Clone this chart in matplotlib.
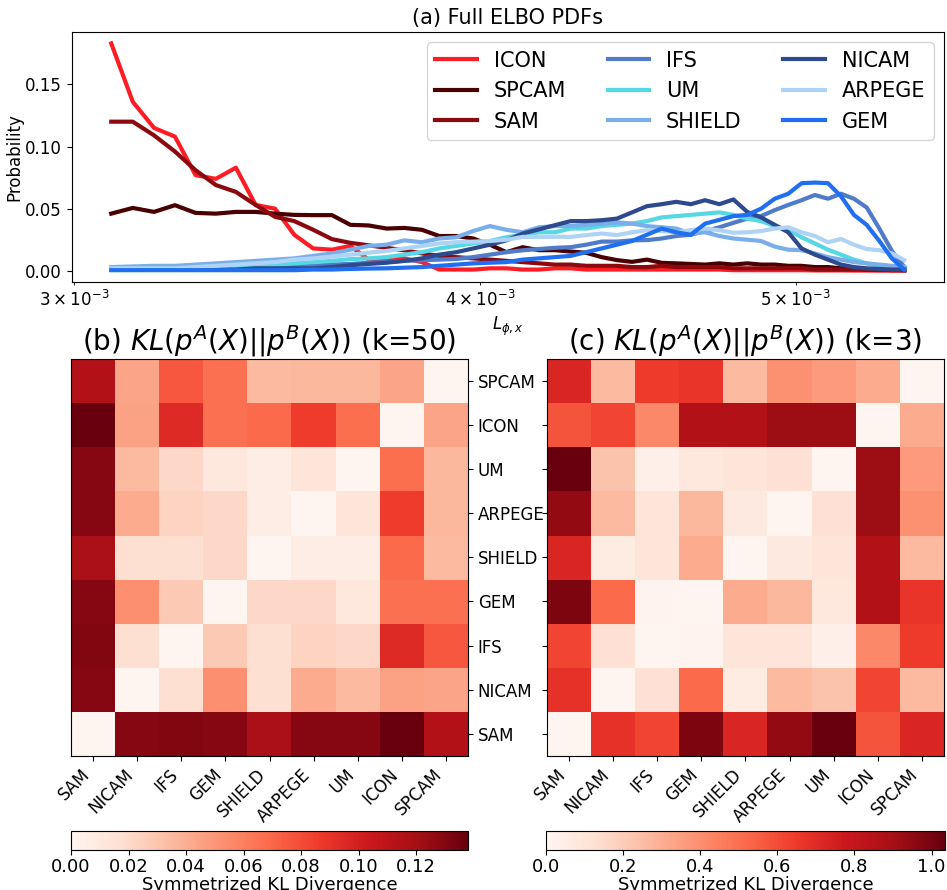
import numpy as np
import matplotlib
matplotlib.use('Agg')
import matplotlib.pyplot as plt

# bin centres of the ELBO histograms
L_bins = np.linspace(3.08e-3, 5.40e-3, 50)

ICON = [0.183, 0.136, 0.115, 0.108, 0.077, 0.074, 0.083, 0.053, 0.050, 0.029,
        0.018, 0.017, 0.020, 0.009, 0.009, 0.010, 0.007, 0.001, 0.001, 0.001,
        0.002, 0.002, 0.001, 0.001, 0.002, 0.002, 0.001, 0.001, 0.001, 0.001,
        0.001, 0.001, 0.001, 0.001, 0.001, 0.001, 0.0005, 0.0005, 0.0005, 0.0005,
        0.0005, 0.0005, 0.0003, 0.0003, 0.0003, 0.0002, 0.0002, 0.0001, 0.0001, 0.0001]
SPCAM = [0.046, 0.0506, 0.0474, 0.0528, 0.0466, 0.046, 0.0474, 0.0474, 0.046, 0.045,
         0.0448, 0.0448, 0.037, 0.0365, 0.034, 0.0345, 0.033, 0.028, 0.028, 0.026,
         0.021, 0.015, 0.019, 0.0166, 0.0166, 0.0155, 0.0145, 0.011, 0.0086, 0.0072,
         0.009, 0.0064, 0.006, 0.0055, 0.005, 0.006, 0.005, 0.006, 0.005, 0.005,
         0.004, 0.004, 0.003, 0.003, 0.002, 0.002, 0.001, 0.001, 0.001, 0.0005]
SAM = [0.120, 0.120, 0.109, 0.096, 0.081, 0.069, 0.0635, 0.053, 0.0434, 0.040,
       0.033, 0.0255, 0.0225, 0.0205, 0.0185, 0.0165, 0.014, 0.012, 0.011, 0.010,
       0.009, 0.008, 0.007, 0.006, 0.005, 0.005, 0.004, 0.004, 0.004, 0.003,
       0.003, 0.004, 0.003, 0.003, 0.003, 0.003, 0.002, 0.002, 0.002, 0.002,
       0.002, 0.002, 0.001, 0.001, 0.001, 0.001, 0.001, 0.001, 0.0005, 0.0005]
IFS = [0.002, 0.002, 0.002, 0.002, 0.002, 0.003, 0.003, 0.003, 0.003, 0.0035,
       0.004, 0.005, 0.0055, 0.0065, 0.007, 0.008, 0.0085, 0.009, 0.0095, 0.011,
       0.013, 0.015, 0.0165, 0.0175, 0.0185, 0.019, 0.021, 0.0235, 0.0235, 0.0245,
       0.0247, 0.026, 0.028, 0.029, 0.032, 0.035, 0.0386, 0.042, 0.044, 0.0488,
       0.053, 0.0568, 0.061, 0.058, 0.062, 0.058, 0.051, 0.034, 0.016, 0.003]
UM = [0.002, 0.002, 0.002, 0.002, 0.002, 0.003, 0.003, 0.004, 0.005, 0.006,
      0.007, 0.008, 0.0094, 0.010, 0.011, 0.013, 0.015, 0.018, 0.020, 0.022,
      0.024, 0.027, 0.029, 0.031, 0.031, 0.034, 0.034, 0.036, 0.037, 0.038,
      0.040, 0.043, 0.044, 0.045, 0.046, 0.047, 0.045, 0.042, 0.040, 0.036,
      0.033, 0.027, 0.022, 0.017, 0.013, 0.009, 0.006, 0.004, 0.003, 0.002]
SHIELD = [0.003, 0.0035, 0.004, 0.004, 0.005, 0.006, 0.007, 0.008, 0.009, 0.010,
          0.012, 0.014, 0.017, 0.020, 0.021, 0.0245, 0.0230, 0.026, 0.027, 0.032,
          0.036, 0.033, 0.031, 0.035, 0.036, 0.036, 0.037, 0.038, 0.039, 0.038,
          0.036, 0.035, 0.034, 0.030, 0.031, 0.028, 0.026, 0.025, 0.024, 0.0195,
          0.017, 0.0166, 0.014, 0.011, 0.009, 0.007, 0.006, 0.005, 0.004, 0.0033]
NICAM = [0.001, 0.001, 0.001, 0.001, 0.001, 0.001, 0.001, 0.002, 0.002, 0.002,
         0.002, 0.003, 0.0045, 0.0055, 0.0065, 0.008, 0.010, 0.013, 0.015, 0.018,
         0.021, 0.0245, 0.030, 0.0333, 0.0367, 0.040, 0.040, 0.0407, 0.042, 0.047,
         0.052, 0.0536, 0.0555, 0.0536, 0.0568, 0.0536, 0.0574, 0.0474, 0.043, 0.037,
         0.031, 0.018, 0.013, 0.009, 0.005, 0.003, 0.002, 0.0015, 0.001, 0.001]
ARPEGE = [0.002, 0.002, 0.002, 0.002, 0.003, 0.004, 0.005, 0.006, 0.007, 0.009,
          0.010, 0.0115, 0.013, 0.0145, 0.016, 0.018, 0.020, 0.022, 0.023, 0.0235,
          0.024, 0.025, 0.0273, 0.0273, 0.0273, 0.0273, 0.0287, 0.030, 0.0287, 0.031,
          0.0327, 0.032, 0.031, 0.0327, 0.034, 0.0327, 0.0306, 0.031, 0.032, 0.034,
          0.035, 0.031, 0.028, 0.023, 0.0256, 0.021, 0.0175, 0.0166, 0.014, 0.0086]
GEM = [0.0005, 0.0005, 0.0005, 0.0005, 0.0005, 0.0005, 0.0005, 0.0005, 0.0005, 0.0005,
       0.001, 0.001, 0.0015, 0.0018, 0.002, 0.0025, 0.003, 0.004, 0.005, 0.006,
       0.0065, 0.007, 0.009, 0.010, 0.011, 0.012, 0.015, 0.018, 0.021, 0.024,
       0.029, 0.034, 0.031, 0.029, 0.038, 0.041, 0.044, 0.045, 0.050, 0.058,
       0.062, 0.0705, 0.071, 0.0705, 0.060, 0.045, 0.037, 0.024, 0.010, 0.001]

pdf_names = ['ICON', 'SPCAM', 'SAM', 'IFS', 'UM', 'SHIELD', 'NICAM', 'ARPEGE', 'GEM']
pdf_values = [ICON, SPCAM, SAM, IFS, UM, SHIELD, NICAM, ARPEGE, GEM]
pdf_colors = ['#ff1c24', '#4a0000', '#8c0a0f', '#4f7bc9', '#55d8e3',
              '#7aaeea', '#2e4a8f', '#aed3f5', '#1f6ff0']

# heatmap order: first row is drawn at the bottom
models = ['SAM', 'NICAM', 'IFS', 'GEM', 'SHIELD', 'ARPEGE', 'UM', 'ICON', 'SPCAM']
kl_k50 = [
    [0.000, 0.129, 0.130, 0.129, 0.118, 0.129, 0.129, 0.138, 0.115],
    [0.129, 0.000, 0.017, 0.053, 0.017, 0.041, 0.035, 0.045, 0.044],
    [0.130, 0.017, 0.000, 0.028, 0.017, 0.023, 0.021, 0.094, 0.076],
    [0.129, 0.053, 0.028, 0.000, 0.021, 0.021, 0.011, 0.066, 0.066],
    [0.118, 0.017, 0.017, 0.021, 0.000, 0.007, 0.007, 0.068, 0.035],
    [0.129, 0.041, 0.023, 0.021, 0.007, 0.000, 0.013, 0.086, 0.036],
    [0.129, 0.035, 0.021, 0.011, 0.007, 0.013, 0.000, 0.067, 0.036],
    [0.138, 0.045, 0.094, 0.066, 0.068, 0.086, 0.067, 0.000, 0.044],
    [0.115, 0.044, 0.076, 0.066, 0.035, 0.036, 0.036, 0.044, 0.000],
]
kl_k3 = [
    [0.000, 0.68, 0.62, 0.99, 0.72, 0.94, 1.035, 0.575, 0.72],
    [0.68, 0.000, 0.12, 0.51, 0.06, 0.26, 0.23, 0.62, 0.26],
    [0.62, 0.12, 0.000, 0.01, 0.10, 0.10, 0.03, 0.42, 0.65],
    [0.99, 0.51, 0.01, 0.000, 0.31, 0.27, 0.08, 0.86, 0.67],
    [0.72, 0.06, 0.10, 0.31, 0.000, 0.07, 0.10, 0.86, 0.26],
    [0.94, 0.26, 0.10, 0.27, 0.07, 0.000, 0.12, 0.92, 0.39],
    [1.035, 0.23, 0.03, 0.08, 0.10, 0.12, 0.000, 0.92, 0.36],
    [0.575, 0.62, 0.42, 0.86, 0.86, 0.92, 0.92, 0.000, 0.31],
    [0.72, 0.26, 0.65, 0.67, 0.26, 0.39, 0.36, 0.31, 0.000],
]

fig = plt.figure(figsize=(9.47, 8.9), dpi=100)

# (a) PDFs
ax = fig.add_axes([0.0756, 0.6831, 0.9212, 0.2809])
for name, vals, col in zip(pdf_names, pdf_values, pdf_colors):
    ax.plot(L_bins, vals, color=col, lw=3, label=name)
ax.set_xscale('log')
ax.set_title('(a) Full ELBO PDFs', fontsize=15)
ax.set_ylabel('Probability', fontsize=12, labelpad=1)
ax.set_xlabel(r'$L_{\phi,x}$', fontsize=12)
ax.tick_params(labelsize=12, which='both')
ax.legend(ncol=3, loc='upper right', fontsize=15)

# (b) and (c) heatmaps
ax_b = fig.add_axes([0.0750, 0.1509, 0.4192, 0.4457])
ax_c = fig.add_axes([0.5776, 0.1509, 0.4192, 0.4457])
cax_b = fig.add_axes([0.0750, 0.0449, 0.4192, 0.0213])
cax_c = fig.add_axes([0.5766, 0.0449, 0.4213, 0.0213])

panels = [(ax_b, cax_b, kl_k50, r'(b) $KL(p^A(X)||p^B(X))$ (k=50)'),
          (ax_c, cax_c, kl_k3, r'(c) $KL(p^A(X)||p^B(X))$ (k=3)')]
for a, ca, mat, title in panels:
    mat = np.array(mat)
    im = a.imshow(mat, cmap='Reds', origin='lower', aspect='auto',
                  interpolation='nearest', vmin=0, vmax=mat.max())
    a.set_title(title, fontsize=20)
    a.set_xticks(range(len(models)))
    a.set_xticklabels(models, rotation=45, ha='right', fontsize=12)
    a.set_yticks(range(len(models)))
    a.set_yticklabels(models, fontsize=12)
    cb = fig.colorbar(im, cax=ca, orientation='horizontal')
    cb.set_label('Symmetrized KL Divergence', fontsize=13, labelpad=0)
    cb.ax.tick_params(labelsize=13, pad=2)

ax_b.yaxis.tick_right()
ax_c.tick_params(labelleft=False)

fig.savefig('out.png', dpi=100)
